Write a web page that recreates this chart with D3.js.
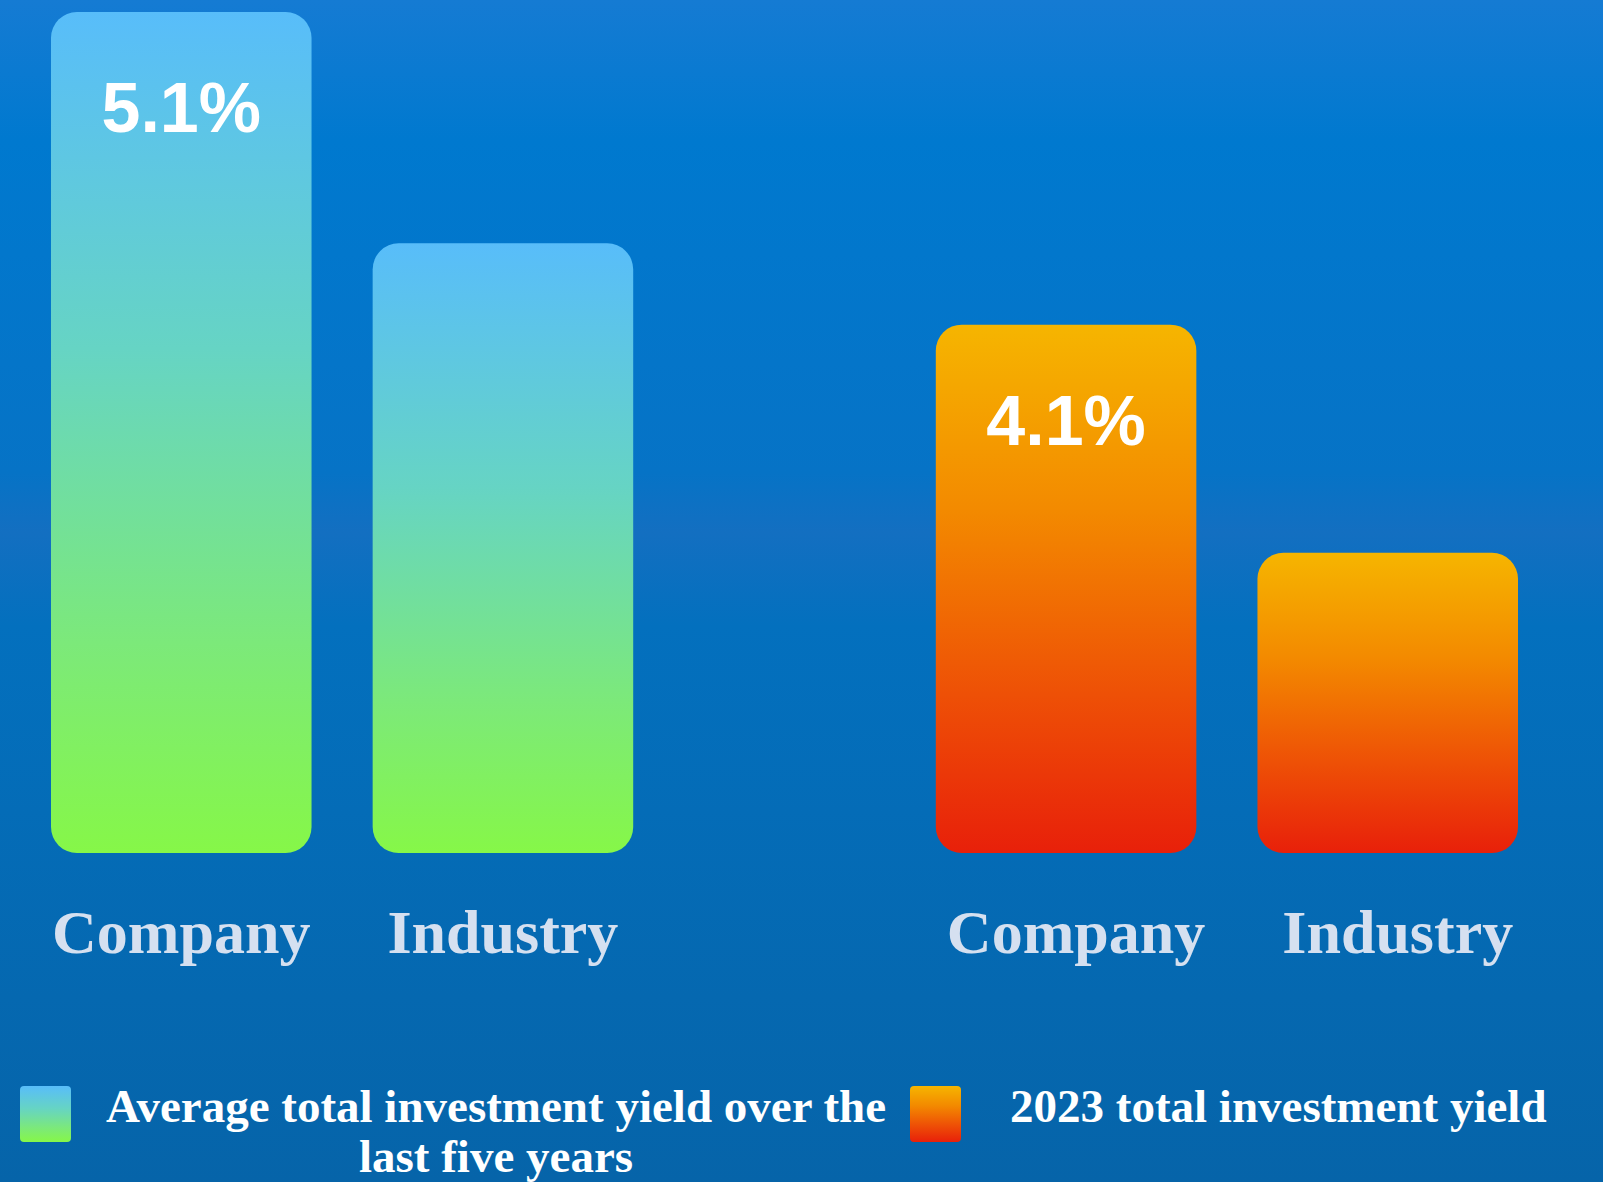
<!DOCTYPE html>
<html>
<head>
<meta charset="utf-8">
<script src="https://cdn.jsdelivr.net/npm/d3@7"></script>
<style>
  html, body { margin: 0; padding: 0; background: #0670c0; }
  svg { display: block; }
</style>
</head>
<body>
<div id="chart"></div>
<script>
// data
var groups = ["five", "y2023"];
var groupNames = ["Average total investment yield over the last five years", "2023 total investment yield"];
var categories = ["Company", "Industry"];
var fiveYear = [5.1, 4.36];
var year2023 = [4.1, 3.37];
var valueLabels = ["5.1%", "", "4.1%", ""];

var W = 1603, H = 1182;
var baseline = 853;

var svg = d3.select("#chart").append("svg")
    .attr("width", W)
    .attr("height", H);

var defs = svg.append("defs");

// background gradient
var bg = defs.append("linearGradient").attr("id", "bg")
    .attr("x1", 0).attr("y1", 0).attr("x2", 0).attr("y2", 1);
[[0, "#157bd3"], [0.12, "#0079cf"], [0.4, "#0673c6"], [0.45, "#136fc1"], [0.53, "#0370be"], [1, "#0664a9"]]
    .forEach(function(s){ bg.append("stop").attr("offset", s[0]).attr("stop-color", s[1]); });

var gradStops = {
    five: [[0, "#58bdfa"], [0.4, "#66d4c4"], [0.75, "#7ce97a"], [1, "#86f748"]],
    y2023: [[0, "#f6b500"], [0.35, "#f38a00"], [0.7, "#ee5006"], [1, "#e8200a"]]
};
groups.forEach(function(g){
    var lg = defs.append("linearGradient").attr("id", "grad-" + g)
        .attr("x1", 0).attr("y1", 0).attr("x2", 0).attr("y2", 1);
    gradStops[g].forEach(function(s){ lg.append("stop").attr("offset", s[0]).attr("stop-color", s[1]); });
});

svg.append("rect").attr("width", W).attr("height", H).attr("fill", "url(#bg)");

var x0 = d3.scaleBand().domain(groups).range([51, 1518]).paddingInner(0.342);
var x1 = d3.scaleBand().domain(categories).range([0, x0.bandwidth()]).paddingInner(0.19);
var y = d3.scaleLinear().domain([2.41, 5.1]).range([baseline, 12]);

var rows = [];
groups.forEach(function(g, gi){
    var vals = gi === 0 ? fiveYear : year2023;
    categories.forEach(function(c, ci){
        rows.push({group: g, cat: c, value: vals[ci], label: valueLabels[gi * 2 + ci]});
    });
});

var bars = svg.append("g").selectAll("g.bar")
    .data(rows)
  .enter().append("g")
    .attr("class", "bar")
    .attr("transform", function(d){ return "translate(" + (x0(d.group) + x1(d.cat)) + ",0)"; });

bars.append("rect")
    .attr("y", function(d){ return y(d.value); })
    .attr("width", x1.bandwidth())
    .attr("height", function(d){ return baseline - y(d.value); })
    .attr("rx", 26).attr("ry", 26)
    .attr("fill", function(d){ return "url(#grad-" + d.group + ")"; });

bars.append("text")
    .attr("x", x1.bandwidth() / 2)
    .attr("y", function(d){ return y(d.value) + 120; })
    .attr("text-anchor", "middle")
    .attr("font-family", "Liberation Sans, Arial, sans-serif")
    .attr("font-weight", "bold")
    .attr("font-size", 70)
    .attr("fill", "#ffffff")
    .text(function(d){ return d.label; });

bars.append("text")
    .attr("x", function(d){ return x1.bandwidth() / 2 + (d.group === "y2023" ? 10 : 0); })
    .attr("y", 953)
    .attr("text-anchor", "middle")
    .attr("font-family", "Liberation Serif, Times New Roman, serif")
    .attr("font-weight", "bold")
    .attr("font-size", 62)
    .attr("fill", "#d5e0f0")
    .text(function(d){ return d.cat; });

// legend
var legend = svg.append("g").attr("class", "legend");
var legX = [20, 910];
groups.forEach(function(g, i){
    legend.append("rect")
        .attr("x", legX[i]).attr("y", 1086)
        .attr("width", 51).attr("height", 56)
        .attr("rx", 4)
        .attr("fill", "url(#grad-" + g + ")");
});

var legText = legend.append("text")
    .attr("font-family", "Liberation Serif, Times New Roman, serif")
    .attr("font-weight", "bold")
    .attr("font-size", 47)
    .attr("fill", "#ffffff")
    .attr("text-anchor", "middle");
legText.append("tspan").attr("x", 496).attr("y", 1122).text("Average total investment yield over the");
legText.append("tspan").attr("x", 496).attr("y", 1172).text("last five years");

legend.append("text")
    .attr("x", 1010).attr("y", 1122)
    .attr("font-family", "Liberation Serif, Times New Roman, serif")
    .attr("font-weight", "bold")
    .attr("font-size", 47)
    .attr("fill", "#ffffff")
    .text(groupNames[1]);
</script>
</body>
</html>
